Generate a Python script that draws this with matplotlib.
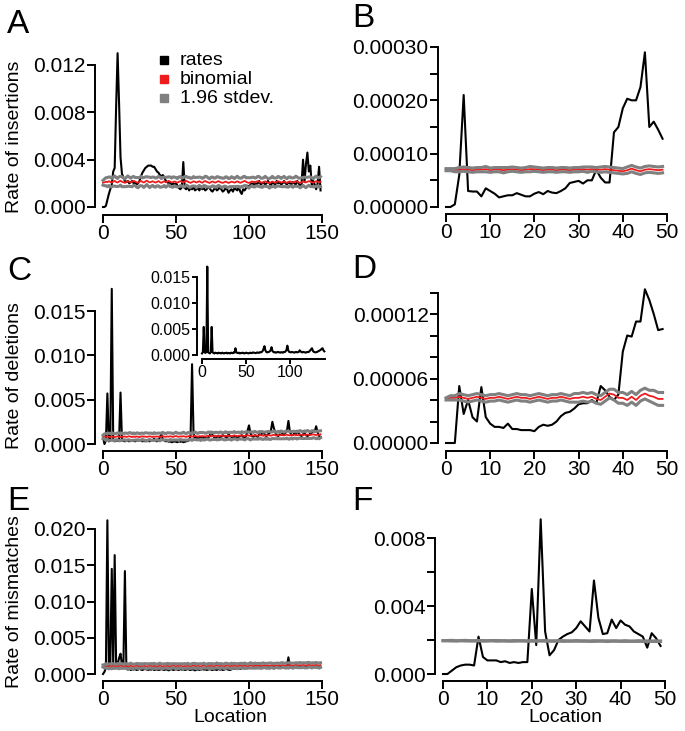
import matplotlib
matplotlib.use('Agg')
import matplotlib.pyplot as plt
from matplotlib.lines import Line2D
import numpy as np
##########################################################################
#                      STYLE
##########################################################################
plt.rcParams['font.family'] = ['Liberation Sans', 'DejaVu Sans']
W, H, DPI = 685, 731, 100
fs_tick, fs_lab, fs_let, fs_in = 15, 14, 24, 11.5
lw_ax, lw_rate, lw_band, lw_bin = 1.4, 1.5, 2.2, 1.3
c_rate, c_bin, c_band = 'black', '#ee1c1c', '#808080'
##########################################################################
#                      DATA  (ints, scaled below)
##########################################################################
# --- A : insertions, locations 0-149, units 1e-4 (rates) / 1e-5 (binom)
ins_rate = [0, 0, 1, 6, 11, 15, 19, 30, 33, 85,
            130, 88, 42, 28, 25, 22, 21, 22, 20, 21,
            22, 20, 21, 19, 20, 22, 26, 29, 31, 33,
            34, 35, 35, 35, 34, 34, 32, 30, 29, 27,
            26, 27, 25, 22, 21, 20, 21, 19, 20, 19,
            20, 18, 16, 15, 17, 38, 16, 15, 17, 14,
            16, 15, 17, 14, 15, 16, 14, 17, 15, 16,
            14, 15, 17, 16, 14, 13, 15, 16, 14, 15,
            17, 15, 13, 14, 16, 15, 12, 14, 15, 13,
            16, 15, 14, 17, 13, 11, 15, 14, 16, 18,
            17, 19, 20, 18, 21, 19, 20, 22, 19, 20,
            21, 19, 20, 22, 20, 18, 21, 20, 19, 22,
            20, 21, 19, 20, 22, 20, 19, 21, 20, 19,
            21, 20, 19, 22, 20, 18, 19, 40, 21, 36,
            46, 30, 35, 18, 22, 19, 15, 20, 34, 14]
ins_binom = [205, 208, 214, 210, 218, 212, 206, 215, 220, 211,
             207, 216, 222, 213, 209, 204, 212, 219, 214, 208,
             213, 221, 215, 209, 205, 214, 220, 212, 207, 216,
             223, 214, 208, 212, 218, 211, 206, 213, 219, 210,
             204, 212, 217, 209, 214, 221, 213, 207, 211, 216,
             210, 205, 213, 219, 212, 208, 215, 222, 214, 209,
             204, 211, 217, 213, 207, 212, 218, 210, 205, 214,
             220, 213, 208, 203, 211, 216, 210, 206, 213, 219,
             212, 207, 204, 210, 215, 209, 203, 208, 214, 211,
             206, 212, 217, 210, 204, 209, 215, 221, 213, 208,
             203, 210, 216, 211, 207, 213, 219, 214, 208, 204,
             211, 217, 212, 206, 201, 209, 215, 210, 205, 212,
             218, 213, 207, 211, 216, 209, 204, 210, 217, 212,
             206, 211, 218, 214, 208, 203, 210, 216, 212, 207,
             213, 219, 214, 209, 205, 212, 218, 213, 208, 215]
ins_sd = [20, 28, 34, 38, 36, 41, 35, 39, 43, 37,
          34, 40, 37, 42, 36, 33, 39, 44, 38, 35,
          41, 37, 34, 40, 43, 36, 39, 35, 42, 38,
          33, 39, 44, 37, 35, 41, 38, 34, 40, 43,
          36, 39, 35, 42, 38, 34, 41, 37, 44, 36,
          39, 35, 41, 38, 34, 40, 43, 37, 35, 42,
          38, 34, 40, 36, 43, 39, 35, 41, 37, 33,
          40, 44, 38, 35, 41, 37, 34, 39, 43, 36,
          35, 41, 38, 34, 40, 44, 37, 35, 42, 38,
          34, 39, 43, 36, 40, 35, 41, 38, 33, 40,
          44, 37, 35, 41, 38, 34, 40, 43, 36, 39,
          35, 42, 38, 34, 41, 37, 44, 36, 39, 35,
          41, 38, 34, 40, 43, 37, 35, 42, 38, 34,
          40, 36, 43, 39, 35, 41, 37, 33, 40, 44,
          38, 35, 41, 37, 34, 40, 43, 36, 39, 42]

# --- B : insertions, locations 0-49, units 1e-6
insz_rate = [0, 0, 5, 60, 210, 30, 29, 29, 20, 35,
             30, 25, 18, 20, 22, 22, 26, 23, 20, 20,
             25, 28, 24, 30, 27, 26, 30, 35, 45, 47,
             49, 44, 50, 50, 70, 55, 46, 46, 140, 150,
             185, 203, 200, 200, 225, 290, 150, 160, 145, 128]
insz_binom = [70, 70, 69, 70, 71, 70, 69, 70, 70, 71,
              69, 70, 70, 69, 70, 71, 70, 69, 70, 71,
              71, 70, 69, 70, 70, 69, 70, 70, 69, 70,
              70, 71, 70, 71, 70, 70, 71, 70, 69, 68,
              67, 69, 72, 69, 67, 70, 71, 70, 69, 70]
insz_sd = [2, 2, 3, 4, 4, 4, 4, 4, 4, 5,
           4, 4, 4, 5, 4, 4, 4, 4, 4, 5,
           4, 4, 4, 4, 4, 4, 4, 4, 4, 4,
           4, 4, 5, 4, 4, 5, 5, 5, 5, 5,
           5, 6, 6, 6, 6, 6, 6, 6, 6, 6]

# --- C : deletions, locations 0-149, units 1e-5
del_rate = [80, 0, 40, 570, 30, 40, 1750, 40, 30, 40,
            35, 50, 580, 40, 35, 30, 40, 35, 30, 40,
            45, 35, 30, 40, 50, 45, 40, 30, 35, 30,
            40, 35, 30, 45, 40, 60, 35, 30, 40, 80,
            110, 50, 40, 30, 35, 25, 30, 20, 25, 30,
            25, 20, 30, 25, 30, 20, 25, 30, 35, 40,
            100, 900, 120, 50, 80, 60, 70, 80, 60, 70,
            80, 60, 70, 90, 140, 100, 80, 70, 80, 90,
            70, 80, 100, 90, 80, 70, 110, 90, 80, 70,
            80, 90, 70, 80, 90, 100, 80, 70, 90, 150,
            210, 120, 90, 80, 100, 90, 80, 110, 100, 120,
            130, 100, 90, 110, 120, 150, 250, 180, 130, 100,
            90, 110, 100, 120, 110, 130, 150, 260, 140, 100,
            100, 120, 110, 150, 120, 100, 90, 110, 120, 100,
            90, 100, 120, 130, 150, 140, 200, 130, 90, 80]
del_binom = [80, 84, 79, 86, 82, 78, 85, 81, 77, 83,
             87, 80, 76, 84, 81, 86, 79, 83, 88, 82,
             78, 84, 80, 86, 82, 77, 83, 88, 81, 85,
             79, 84, 87, 82, 78, 85, 81, 86, 83, 79,
             85, 89, 83, 80, 86, 82, 88, 84, 79, 86,
             90, 84, 81, 87, 83, 89, 85, 80, 86, 91,
             85, 82, 88, 93, 86, 83, 89, 85, 91, 87,
             84, 90, 95, 88, 85, 91, 87, 93, 89, 86,
             92, 96, 90, 87, 93, 89, 95, 91, 88, 94,
             98, 92, 89, 95, 91, 97, 93, 90, 96, 100,
             94, 91, 97, 93, 99, 95, 92, 98, 102, 96,
             93, 99, 95, 101, 97, 94, 100, 104, 98, 95,
             101, 97, 103, 99, 96, 102, 106, 100, 97, 103,
             99, 105, 101, 98, 104, 108, 102, 99, 105, 101,
             107, 103, 100, 106, 110, 104, 101, 107, 103, 109]
del_sd = [20, 30, 38, 35, 41, 37, 43, 36, 40, 34,
          39, 44, 37, 41, 35, 38, 42, 36, 40, 45,
          37, 41, 35, 39, 43, 36, 40, 34, 38, 42,
          45, 38, 35, 41, 37, 43, 39, 36, 40, 44,
          36, 42, 38, 35, 41, 44, 37, 40, 34, 39,
          43, 37, 41, 35, 38, 44, 40, 36, 42, 39,
          35, 41, 37, 43, 39, 36, 40, 45, 38, 42,
          37, 34, 40, 44, 38, 41, 36, 39, 43, 37,
          42, 38, 35, 41, 45, 39, 36, 40, 44, 38,
          41, 37, 43, 39, 35, 42, 38, 44, 40, 36,
          39, 45, 41, 37, 43, 40, 36, 42, 38, 44,
          40, 36, 42, 38, 45, 41, 37, 43, 39, 35,
          42, 38, 44, 40, 36, 43, 39, 45, 41, 37,
          43, 39, 36, 42, 38, 44, 40, 37, 43, 39,
          45, 41, 37, 43, 39, 36, 42, 38, 44, 40]

# --- C inset : deletions, locations 0-139, units 1e-5
inset_rate = [30, 60, 540, 50, 40, 60, 1700, 50, 40, 30,
              60, 540, 50, 40, 30, 45, 35, 40, 30, 45,
              35, 40, 30, 45, 35, 30, 40, 35, 45, 30,
              40, 35, 30, 45, 40, 35, 50, 45, 130, 50,
              40, 35, 45, 30, 40, 35, 45, 40, 30, 35,
              45, 40, 35, 30, 40, 45, 35, 40, 50, 45,
              40, 35, 45, 50, 40, 45, 55, 50, 60, 80,
              120, 170, 90, 60, 50, 55, 60, 70, 90, 150,
              80, 60, 50, 55, 45, 50, 60, 55, 50, 45,
              55, 50, 45, 60, 55, 70, 100, 180, 90, 60,
              55, 50, 60, 55, 50, 45, 55, 60, 50, 55,
              60, 90, 70, 55, 50, 60, 55, 50, 45, 55,
              60, 55, 70, 90, 110, 130, 80, 60, 55, 50,
              55, 60, 70, 80, 90, 100, 120, 130, 90, 70]

# --- D : deletions, locations 0-49, units 1e-6
delz_rate = [0, 0, 0, 53, 27, 40, 24, 20, 52, 24,
             18, 15, 15, 14, 18, 13, 13, 12, 12, 12,
             11, 15, 17, 16, 17, 20, 25, 28, 29, 32,
             36, 37, 37, 40, 37, 53, 49, 43, 40, 45,
             85, 100, 99, 113, 113, 143, 133, 120, 105, 106]
delz_binom = [41, 42, 42, 43, 42, 41, 42, 43, 42, 41,
              42, 42, 43, 42, 41, 42, 43, 42, 42, 41,
              42, 43, 42, 41, 42, 42, 43, 42, 41, 42,
              42, 43, 42, 43, 41, 40, 43, 46, 45, 42,
              42, 40, 43, 40, 44, 46, 44, 43, 41, 41]
delz_sd = [1, 2, 2, 3, 3, 3, 3, 3, 3, 3,
           3, 3, 3, 3, 3, 3, 3, 3, 3, 3,
           3, 3, 3, 3, 3, 3, 3, 3, 3, 4,
           4, 4, 4, 4, 4, 4, 4, 4, 5, 5,
           5, 5, 5, 5, 5, 5, 5, 6, 6, 6]

# --- E : mismatches, locations 0-149, units 1e-5
mis_rate = [0, 30, 90, 2120, 110, 130, 1450, 120, 1640, 110,
            130, 220, 280, 120, 150, 1420, 90, 60, 70, 55,
            65, 60, 70, 55, 60, 75, 60, 55, 65, 70,
            60, 55, 65, 60, 70, 55, 60, 65, 55, 60,
            70, 60, 55, 65, 60, 50, 60, 70, 55, 60,
            65, 60, 55, 70, 60, 65, 55, 60, 70, 60,
            55, 65, 60, 50, 60, 65, 55, 60, 70, 60,
            65, 55, 60, 70, 60, 55, 65, 60, 55, 70,
            60, 65, 55, 60, 70, 65, 60, 55, 65, 75,
            70, 80, 75, 85, 70, 80, 90, 75, 85, 80,
            90, 85, 80, 95, 85, 90, 80, 95, 90, 85,
            95, 90, 85, 100, 90, 85, 95, 90, 100, 85,
            95, 90, 100, 95, 90, 100, 110, 230, 100, 95,
            90, 100, 95, 105, 90, 100, 95, 105, 100, 90,
            100, 95, 105, 100, 95, 100, 90, 105, 100, 95]
mis_binom = [110, 106, 112, 108, 104, 111, 107, 113, 109, 105,
             112, 108, 114, 110, 106, 111, 107, 103, 109, 113,
             108, 104, 110, 114, 109, 105, 111, 107, 113, 109,
             104, 110, 115, 111, 106, 112, 108, 104, 110, 114,
             109, 105, 111, 107, 113, 109, 104, 110, 115, 111,
             106, 112, 108, 114, 110, 105, 111, 107, 113, 109,
             105, 111, 116, 112, 107, 113, 109, 105, 111, 115,
             110, 106, 112, 108, 114, 110, 106, 112, 117, 113,
             108, 114, 110, 106, 112, 116, 111, 107, 113, 109,
             115, 111, 107, 113, 118, 114, 109, 115, 111, 107,
             113, 119, 115, 110, 116, 112, 118, 114, 109, 115,
             121, 116, 112, 118, 114, 120, 116, 111, 117, 122,
             117, 113, 119, 124, 119, 115, 121, 117, 123, 119,
             114, 120, 126, 121, 117, 123, 119, 125, 120, 116,
             122, 127, 123, 118, 124, 120, 126, 121, 117, 123]
mis_sd = [15, 24, 30, 27, 33, 29, 35, 28, 32, 26,
          31, 36, 29, 33, 27, 30, 34, 28, 32, 37,
          29, 33, 27, 31, 35, 28, 32, 26, 30, 34,
          37, 30, 27, 33, 29, 35, 31, 28, 32, 36,
          28, 34, 30, 27, 33, 36, 29, 32, 26, 31,
          35, 29, 33, 27, 30, 36, 32, 28, 34, 31,
          27, 33, 29, 35, 31, 28, 32, 37, 30, 34,
          29, 26, 32, 36, 30, 33, 28, 31, 35, 29,
          34, 30, 27, 33, 37, 31, 28, 32, 36, 30,
          33, 29, 35, 31, 27, 34, 30, 36, 32, 28,
          31, 37, 33, 29, 35, 32, 28, 34, 30, 36,
          32, 28, 34, 30, 37, 33, 29, 35, 31, 27,
          34, 30, 36, 32, 28, 35, 31, 37, 33, 29,
          35, 31, 28, 34, 30, 36, 32, 29, 35, 31,
          37, 33, 29, 35, 31, 28, 34, 30, 36, 32]

# --- F : mismatches, locations 0-49, units 1e-5
misz_rate = [0, 0, 20, 40, 50, 55, 55, 50, 220, 100,
             80, 80, 80, 70, 75, 65, 70, 65, 70, 70,
             500, 170, 910, 250, 110, 140, 200, 220, 235, 245,
             270, 310, 280, 250, 550, 330, 235, 240, 320, 270,
             315, 290, 280, 250, 235, 220, 155, 240, 210, 165]
misz_binom = [196, 196, 196, 195, 196, 196, 195, 195, 196, 195,
              195, 196, 195, 195, 195, 194, 195, 195, 195, 194,
              195, 194, 195, 195, 194, 194, 195, 194, 194, 194,
              195, 194, 194, 193, 194, 194, 194, 193, 194, 194,
              193, 194, 193, 193, 194, 193, 193, 193, 193, 193]
misz_sd = [1, 1, 2, 1, 1, 2, 1, 1, 1, 2,
           1, 1, 2, 1, 1, 1, 2, 1, 1, 1,
           2, 1, 1, 2, 1, 1, 1, 2, 1, 1,
           2, 1, 1, 1, 2, 1, 1, 2, 1, 1,
           1, 2, 1, 1, 2, 1, 1, 1, 2, 1]

legnd = ['rates', 'binomial', '1.96 stdev.']
##########################################################################
#                      HELPERS
##########################################################################
fig = plt.figure(figsize=(W / DPI, H / DPI), dpi=DPI)

def px2pt(p):
    return p * 72.0 / DPI

def panel(xlim, px_x, ylim, px_y, yax_px, xax_px, xticks, xlabs,
          yticks, ylabs, xbound, ybound, fs=fs_tick, tl=8):
    # px_x : pixel of xlim[0], xlim[1]; px_y : pixel of ylim[0], ylim[1]
    ax = fig.add_axes([px_x[0] / W, 1 - px_y[0] / H,
                       (px_x[1] - px_x[0]) / W, (px_y[0] - px_y[1]) / H])
    ax.set_xlim(*xlim)
    ax.set_ylim(*ylim)
    ax.patch.set_alpha(0)
    for s in ['top', 'right']:
        ax.spines[s].set_visible(False)
    ax.spines['left'].set_position(('outward', px2pt(px_x[0] - yax_px)))
    ax.spines['bottom'].set_position(('outward', px2pt(xax_px - px_y[0])))
    ax.spines['left'].set_bounds(*ybound)
    ax.spines['bottom'].set_bounds(*xbound)
    for s in ['left', 'bottom']:
        ax.spines[s].set_linewidth(lw_ax)
    ax.set_xticks(xticks)
    ax.set_xticklabels(xlabs)
    ax.set_yticks(yticks)
    ax.set_yticklabels(ylabs)
    ax.tick_params(direction='out', length=px2pt(tl), width=lw_ax,
                   labelsize=fs, pad=1.0, colors='black')
    return ax

def draw(ax, rate, binom, sd, sr, sb, band=True):
    x = np.arange(len(rate))
    r = np.array(rate) * sr
    ax.plot(x, r, c=c_rate, lw=lw_rate, clip_on=False,
            solid_joinstyle='round', zorder=2)
    if band:
        b = np.array(binom) * sb
        d = np.array(sd) * sb
        ax.plot(x, b, c=c_bin, lw=lw_bin, clip_on=False, zorder=3)
        ax.plot(x, b + d, c=c_band, lw=lw_band, clip_on=False, zorder=4)
        ax.plot(x, b - d, c=c_band, lw=lw_band, clip_on=False, zorder=4)

def letter(s, x, y):
    fig.text(x / W, 1 - y / H, s, fontsize=fs_let, va='baseline', ha='left')

def ylab(s, yc):
    fig.text(15 / W, 1 - yc / H, s, fontsize=fs_lab, rotation=90,
             va='center', ha='center')
##########################################################################
#                      PANEL A
##########################################################################
axA = panel((0, 150), (103, 322), (0, 0.012), (207, 65), 95, 215,
            [0, 50, 100, 150], ['0', '50', '100', '150'],
            [0, 0.004, 0.008, 0.012], ['0.000', '0.004', '0.008', '0.012'],
            (0, 150), (0, 0.012))
draw(axA, ins_rate, ins_binom, ins_sd, 1e-4, 1e-5)
ylab('Rate of insertions', 137)
letter('A', 7, 33)
# legend
for i, (lab, col) in enumerate(zip(legnd, [c_rate, c_bin, c_band])):
    yb = 65 + i * 19
    fig.add_artist(Line2D([164 / W], [1 - (yb - 5) / H], marker='s',
                          markersize=5.5, color=col, ls='none',
                          transform=fig.transFigure))
    fig.text(180 / W, 1 - yb / H, lab, fontsize=fs_lab, va='baseline')
##########################################################################
#                      PANEL B
##########################################################################
axB = panel((0, 50), (446, 667), (0, 0.0003), (207, 47), 438, 214,
            [0, 10, 20, 30, 40, 50], ['0', '10', '20', '30', '40', '50'],
            [0, 5e-5, 1e-4, 1.5e-4, 2e-4, 2.5e-4, 3e-4],
            ['0.00000', '', '0.00010', '', '0.00020', '', '0.00030'],
            (0, 50), (0, 0.0003))
draw(axB, insz_rate, insz_binom, insz_sd, 1e-6, 1e-6)
letter('B', 352, 27)
##########################################################################
#                      PANEL C (+ inset)
##########################################################################
axC = panel((0, 150), (103, 322), (0, 0.015), (444, 311), 95, 451,
            [0, 50, 100, 150], ['0', '50', '100', '150'],
            [0, 0.005, 0.010, 0.015], ['0.000', '0.005', '0.010', '0.015'],
            (0, 150), (0, 0.015))
draw(axC, del_rate, del_binom, del_sd, 1e-5, 1e-5)
ylab('Rate of deletions', 376)
letter('C', 7, 280)

axI = panel((0, 140), (202, 325.2), (0, 0.015), (355, 277), 197, 359,
            [0, 50, 100], ['0', '50', '100'],
            [0, 0.005, 0.010, 0.015], ['0.000', '0.005', '0.010', '0.015'],
            (0, 140), (0, 0.015), fs=fs_in, tl=5)
draw(axI, inset_rate, None, None, 1e-5, 1e-5, band=False)
##########################################################################
#                      PANEL D
##########################################################################
axD = panel((0, 50), (446, 667), (0, 0.00014), (443, 292.5), 438, 451,
            [0, 10, 20, 30, 40, 50], ['0', '10', '20', '30', '40', '50'],
            [0, 2e-5, 4e-5, 6e-5, 8e-5, 1e-4, 1.2e-4, 1.4e-4],
            ['0.00000', '', '', '0.00006', '', '', '0.00012', ''],
            (0, 50), (0, 0.00014))
draw(axD, delz_rate, delz_binom, delz_sd, 1e-6, 1e-6)
letter('D', 352, 278)
##########################################################################
#                      PANEL E
##########################################################################
axE = panel((0, 150), (103, 322), (0, 0.020), (674, 529), 95, 681,
            [0, 50, 100, 150], ['0', '50', '100', '150'],
            [0, 0.005, 0.010, 0.015, 0.020],
            ['0.000', '0.005', '0.010', '0.015', '0.020'],
            (0, 150), (0, 0.020))
draw(axE, mis_rate, mis_binom, mis_sd, 1e-5, 1e-5)
ylab('Rate of mismatches', 602)
letter('E', 7, 510)
fig.text(230 / W, 1 - 718 / H, 'Location', fontsize=fs_lab,
         ha='center', va='center')
##########################################################################
#                      PANEL F
##########################################################################
axF = panel((0, 50), (443, 665), (0, 0.008), (674, 538), 435, 681,
            [0, 10, 20, 30, 40, 50], ['0', '10', '20', '30', '40', '50'],
            [0, 0.002, 0.004, 0.006, 0.008],
            ['0.000', '', '0.004', '', '0.008'],
            (0, 50), (0, 0.008))
draw(axF, misz_rate, misz_binom, misz_sd, 1e-5, 1e-5)
letter('F', 352, 510)
fig.text(565 / W, 1 - 718 / H, 'Location', fontsize=fs_lab,
         ha='center', va='center')
##########################################################################
fig.savefig('out.png', dpi=DPI)
